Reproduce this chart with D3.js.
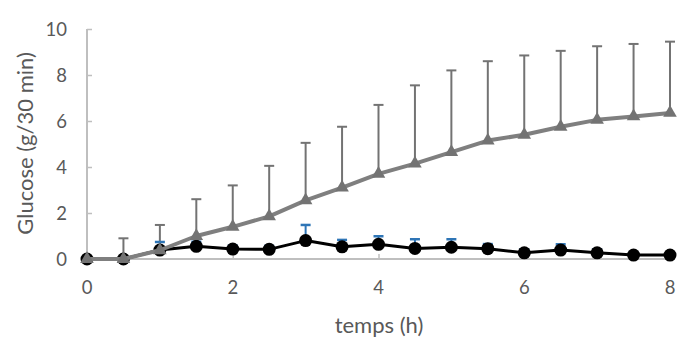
<!DOCTYPE html>
<html><head><meta charset="utf-8">
<script src="https://cdn.jsdelivr.net/npm/d3@7"></script>
<style>body{margin:0;background:#fff}svg{display:block}</style>
</head><body>
<svg id="c" width="700" height="350"></svg>
<script>
const times = [0,0.5,1,1.5,2,2.5,3,3.5,4,4.5,5,5.5,6,6.5,7,7.5,8];
const grayMean = [0,0,0.38,1.0,1.4,1.85,2.55,3.1,3.7,4.15,4.65,5.15,5.4,5.75,6.05,6.2,6.35];
const grayErr  = [0,0.9,1.1,1.6,1.8,2.2,2.5,2.65,3.0,3.4,3.55,3.45,3.45,3.3,3.2,3.15,3.1];
const blackMean = [0,0,0.39,0.55,0.43,0.42,0.8,0.53,0.64,0.46,0.51,0.45,0.27,0.39,0.27,0.17,0.17];
const blackErr  = [0,0,0.35,0.2,0.15,0.15,0.68,0.3,0.35,0.4,0.35,0.2,0.15,0.25,0.15,0.1,0.1];
const xTicks = [0,2,4,6,8];
const yTicks = [0,2,4,6,8,10];
const xTitle = "temps (h)";
const yTitle = "Glucose (g/30 min)";

const svg = d3.select("#c");
const x = d3.scaleLinear().domain([0,8]).range([87,670]);
const y = d3.scaleLinear().domain([0,10]).range([259,29]);
const font = "Lato, 'Open Sans', sans-serif";
const textCol = "#595959", axisCol = "#bfbfbf";

// axes
const yAxis = svg.append("g").attr("transform","translate(87,0)")
  .call(d3.axisRight(y).tickValues(yTicks).tickSize(5).tickFormat(""));
yAxis.select(".domain").attr("stroke",axisCol).attr("stroke-width",2).attr("d","M0,"+y(10)+"V"+y(0));
yAxis.selectAll(".tick line").attr("stroke",axisCol).attr("stroke-width",1.5);
yTicks.forEach(v=>{
  svg.append("text").attr("x",67).attr("y",y(v)).attr("dy","0.36em").attr("text-anchor","end")
    .attr("font-family",font).attr("font-size",18.5).attr("fill",textCol).text(v);
});
const xAxis = svg.append("g").attr("transform","translate(0,259)")
  .call(d3.axisTop(x).tickValues(xTicks).tickSize(5).tickFormat(""));
xAxis.select(".domain").attr("stroke",axisCol).attr("stroke-width",2).attr("d","M"+x(0)+",0H"+x(8));
xAxis.selectAll(".tick line").attr("stroke",axisCol).attr("stroke-width",1.5);
xTicks.forEach(v=>{
  svg.append("text").attr("x",x(v)).attr("y",294).attr("text-anchor","middle")
    .attr("font-family",font).attr("font-size",18.5).attr("fill",textCol).text(v);
});
svg.append("text").attr("x",379).attr("y",333).attr("text-anchor","middle")
  .attr("font-family",font).attr("font-size",22).attr("fill",textCol).text(xTitle);
svg.append("text").attr("transform","translate(33,143.5) rotate(-90)").attr("text-anchor","middle")
  .attr("font-family",font).attr("font-size",22).attr("fill",textCol).text(yTitle);

const capW = 5;
// gray error bars
const gErr = svg.append("g");
times.forEach((t,i)=>{
  if (grayErr[i] <= 0) return;
  gErr.append("line").attr("x1",x(t)).attr("x2",x(t)).attr("y1",y(grayMean[i])).attr("y2",y(grayMean[i]+grayErr[i]))
    .attr("stroke","#737373").attr("stroke-width",2);
  gErr.append("line").attr("x1",x(t)-capW).attr("x2",x(t)+capW).attr("y1",y(grayMean[i]+grayErr[i])).attr("y2",y(grayMean[i]+grayErr[i]))
    .attr("stroke","#737373").attr("stroke-width",2);
});

const line = d3.line().x((d,i)=>x(times[i])).y(d=>y(d));
// black series
const bErr = svg.append("g");
times.forEach((t,i)=>{
  if (blackErr[i] <= 0) return;
  bErr.append("line").attr("x1",x(t)).attr("x2",x(t)).attr("y1",y(blackMean[i])).attr("y2",y(blackMean[i]+blackErr[i]))
    .attr("stroke","#2e75b6").attr("stroke-width",2);
  bErr.append("line").attr("x1",x(t)-capW).attr("x2",x(t)+capW).attr("y1",y(blackMean[i]+blackErr[i])).attr("y2",y(blackMean[i]+blackErr[i]))
    .attr("stroke","#2e75b6").attr("stroke-width",2.5);
});
svg.append("path").datum(blackMean).attr("d",line).attr("fill","none").attr("stroke","#000").attr("stroke-width",3).attr("stroke-linejoin","round");
svg.append("g").selectAll("circle").data(blackMean).join("circle")
  .attr("cx",(d,i)=>x(times[i])).attr("cy",d=>y(d)).attr("r",6.5).attr("fill","#000");

// gray series
svg.append("path").datum(grayMean).attr("d",line).attr("fill","none").attr("stroke","#7f7f7f").attr("stroke-width",4).attr("stroke-linejoin","round");
const tri = d3.symbol().type(d3.symbolTriangle).size(80);
svg.append("g").selectAll("path").data(grayMean).join("path")
  .attr("transform",(d,i)=>"translate("+x(times[i])+","+y(d)+")").attr("d",tri).attr("fill","#737373");
</script>
</body></html>
